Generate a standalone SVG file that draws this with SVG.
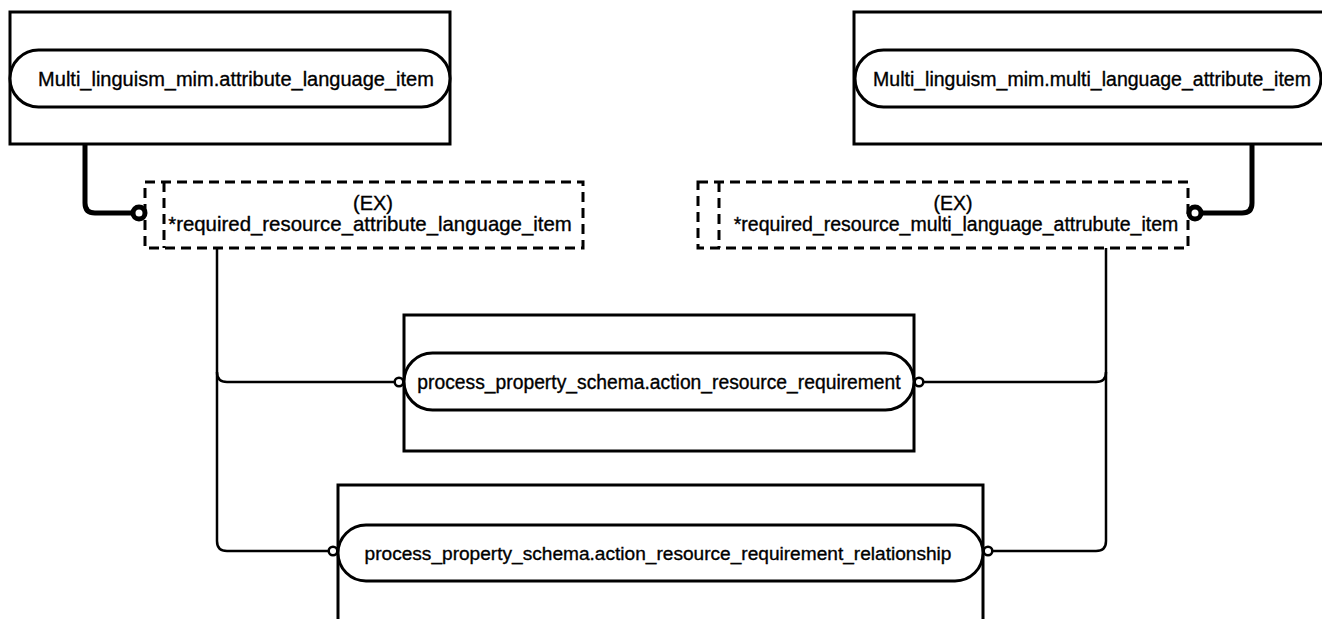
<svg xmlns="http://www.w3.org/2000/svg" width="1322" height="619" viewBox="0 0 1322 619">
<style>
.box{fill:none;stroke:#000;stroke-width:3}
.pill{fill:#fff;stroke:#000;stroke-width:3}
.dash{fill:none;stroke:#000;stroke-width:3;stroke-dasharray:10 6}
.thin{fill:none;stroke:#000;stroke-width:2.5}
.thick{fill:none;stroke:#000;stroke-width:5}
.oc{fill:#fff;stroke:#000;stroke-width:2.5}
.oct{fill:#fff;stroke:#000;stroke-width:5}
text{font-family:"Liberation Sans",Arial,sans-serif;font-size:19.5px;fill:#000;stroke:#000;stroke-width:0.35;text-anchor:middle}
</style>
<rect x="0" y="0" width="1322" height="619" fill="#fff"/>
<g id="connectors">
<path class="thick" d="M85 144 V203 Q85 213 95 213 H132"/>
<path class="thick" d="M1252 144 V203 Q1252 213 1242 213 H1201"/>
<path class="thin" d="M217 248 V372 Q217 382 227 382 H395"/>
<path class="thin" d="M217 372 V541 Q217 551 227 551 H329"/>
<path class="thin" d="M1106 248 V372 Q1106 382 1096 382 H923"/>
<path class="thin" d="M1106 372 V541 Q1106 551 1096 551 H992"/>
<circle class="oct" cx="139" cy="213" r="6"/>
<circle class="oct" cx="1195" cy="213" r="6"/>
<circle class="oc" cx="399" cy="382" r="4.3"/>
<circle class="oc" cx="919" cy="382" r="4.3"/>
<circle class="oc" cx="333" cy="551" r="4.3"/>
<circle class="oc" cx="988" cy="551" r="4.3"/>
</g>
<g id="n1">
<rect class="box" x="10" y="12" width="440" height="132"/>
<rect class="pill" x="10" y="50" width="440" height="57" rx="28.5"/>
<text x="236" y="86" style="font-size:20px">Multi_linguism_mim.attribute_language_item</text>
</g>
<g id="n2">
<rect class="box" x="854" y="12" width="480" height="132"/>
<rect class="pill" x="855" y="50" width="466" height="57" rx="28.5"/>
<text x="1092" y="86">Multi_linguism_mim.multi_language_attribute_item</text>
</g>
<g id="n3">
<rect class="dash" x="145" y="182" width="438" height="66"/>
<line class="dash" x1="164" y1="182" x2="164" y2="248"/>
<text x="373" y="210" style="font-size:20px">(EX)</text>
<text x="370" y="231" style="font-size:20.4px">*required_resource_attribute_language_item</text>
</g>
<g id="n4">
<rect class="dash" x="698" y="182" width="490" height="66"/>
<line class="dash" x1="719" y1="182" x2="719" y2="248"/>
<text x="953" y="210">(EX)</text>
<text x="956" y="231">*required_resource_multi_language_attrubute_item</text>
</g>
<g id="n5">
<rect class="box" x="404" y="315" width="510" height="136"/>
<rect class="pill" x="404" y="353" width="510" height="57" rx="28.5"/>
<text x="659" y="389" style="font-size:19.3px">process_property_schema.action_resource_requirement</text>
</g>
<g id="n6">
<rect class="box" x="338" y="485" width="645" height="150"/>
<rect class="pill" x="338" y="525" width="645" height="56" rx="28"/>
<text x="658" y="560" style="font-size:19.1px">process_property_schema.action_resource_requirement_relationship</text>
</g>
</svg>
